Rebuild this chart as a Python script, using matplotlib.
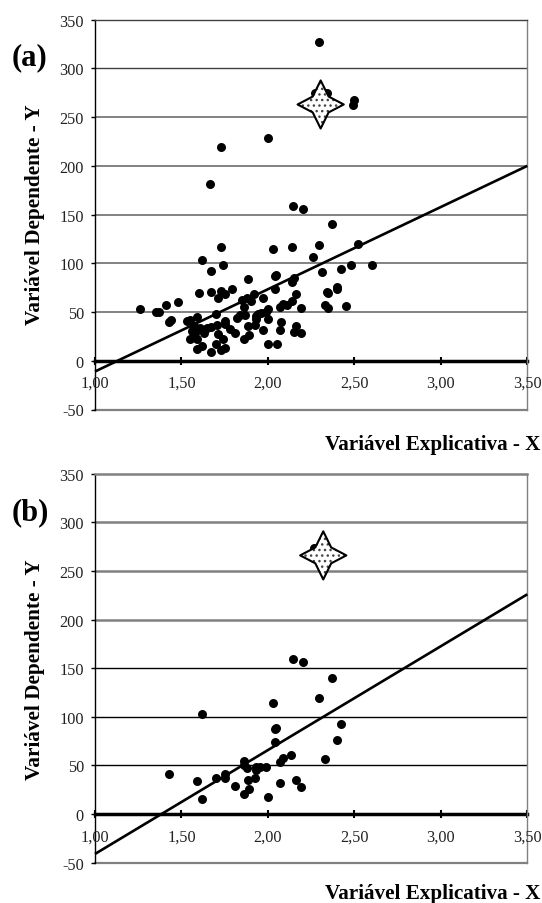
import matplotlib
matplotlib.use("Agg")
import matplotlib.pyplot as plt
import numpy as np
from matplotlib.path import Path

W, H = 542, 904

# panel (a) points
xa = [1.26, 1.354, 1.37, 1.41, 1.48, 1.43, 1.44, 1.53, 1.55, 1.59, 1.57, 1.56, 1.58, 1.55, 1.59,
      1.59, 1.62, 1.60, 1.62, 1.67, 1.73, 1.74, 1.67, 1.73, 1.71, 1.75, 1.79, 1.70, 1.75, 1.75,
      1.705, 1.67, 1.65, 1.61, 1.63, 1.71, 1.74, 1.70, 1.75, 1.73, 1.67, 1.78, 1.81, 1.86, 1.89,
      1.885, 1.82, 1.84, 1.85, 1.86, 1.87, 1.885, 1.88, 1.90, 1.92, 1.925, 1.93, 1.93, 1.94, 1.96,
      1.99, 2.00, 2.00, 1.97, 1.97, 2.00, 2.05, 2.03, 2.04, 2.045, 2.04, 2.07, 2.07, 2.075, 2.085,
      2.11, 2.14, 2.14, 2.15, 2.14, 2.16, 2.19, 2.16, 2.15, 2.19, 2.26, 2.295, 2.31, 2.37, 2.42,
      2.48, 2.60, 2.52, 2.40, 2.40, 2.34, 2.345, 2.33, 2.35, 2.45, 2.295, 2.50, 2.49, 2.00, 1.73,
      1.665, 2.145, 2.20, 2.27, 2.34]
ya = [53, 50, 50, 57, 60, 40, 42, 41, 42, 45, 36, 31, 28, 22, 22,
      12, 15, 70, 103, 92, 117, 98, 71, 72, 64, 69, 74, 48, 41, 38,
      37, 35, 34, 34, 28, 27, 22, 17, 13, 11, 9, 33, 29, 22, 26,
      36, 44, 47, 62, 55, 47, 84, 64, 61, 69, 37, 46, 43, 48, 49,
      50, 53, 43, 32, 64, 17, 17, 115, 87, 88, 74, 55, 32, 40, 58,
      57, 117, 81, 85, 61, 69, 54, 36, 30, 28, 106, 119, 91, 140, 94,
      98, 98, 120, 76, 74, 71, 70, 57, 54, 56, 327, 268, 262, 229, 219,
      181, 159, 156, 275, 275]

# panel (b) points
xb = [1.62, 2.03, 2.295, 2.37, 2.04, 2.045, 2.04, 2.42, 2.40, 2.33, 2.135, 2.085, 2.07, 1.43, 1.59,
      1.62, 1.70, 1.75, 1.75, 1.81, 1.86, 1.89, 1.885, 1.86, 1.86, 1.88, 1.925, 1.93, 1.93, 1.955,
      1.99, 2.00, 2.07, 2.16, 2.19, 2.145, 2.20, 2.265]
yb = [103, 114.5, 119, 140, 87, 88, 74, 93, 76.5, 57, 61, 58, 54, 41, 34.5,
      15, 37, 41, 37, 29, 21, 26, 35.5, 55, 50, 47, 37, 48, 45, 48.5,
      48.5, 17.5, 31.5, 35.5, 27.5, 159, 156, 274]

# regression line end values at x = 1 and x = 3.5
line_x = [1.0, 3.5]
line_a = [-11, 200]
line_b = [-41, 226]

# highlighted point
star_a = (2.305, 263)
star_b = (2.32, 266)

x_ticks = [1.0, 1.5, 2.0, 2.5, 3.0, 3.5]
x_labels = ["1,00", "1,50", "2,00", "2,50", "3,00", "3,50"]
y_ticks = [-50, 0, 50, 100, 150, 200, 250, 300, 350]

plt.rcParams["font.family"] = ["Liberation Serif", "DejaVu Serif"]
plt.rcParams["axes.unicode_minus"] = False
plt.rcParams["hatch.linewidth"] = 1.0

star_path = Path(
    [(0, 1), (0.33, 0.33), (0.96, 0), (0.33, -0.33), (0, -1), (-0.33, -0.33), (-0.96, 0), (-0.33, 0.33), (0, 1)],
    closed=True,
)


def draw_panel(fig, top, bottom, px, py, line_y, star, label, label_y, xlabel_y, ycenter, grid_cols):
    ax = fig.add_axes([95 / W, 1 - bottom / H, (527.3 - 95) / W, (bottom - top) / H])
    ax.set_xlim(1.0, 3.5)
    ax.set_ylim(-50, 350)

    for val, col in zip(y_ticks[2:], grid_cols):
        ax.axhline(val, color=col[0], lw=col[1], zorder=1)
    ax.axhline(-50, color="#808080", lw=1.6, clip_on=False, zorder=1)

    ax.scatter(px, py, s=42, color="black", linewidths=0, zorder=3)
    ax.plot(line_x, line_y, color="black", lw=1.9, zorder=4, solid_capstyle="butt", clip_on=False)

    # star: white base, dotted fill, then outline
    ax.scatter([star[0]], [star[1]], s=1200, marker=star_path, facecolor="white", edgecolor="#444444",
               hatch="...", linewidths=0, zorder=5)
    ax.scatter([star[0]], [star[1]], s=1200, marker=star_path, facecolor="none", edgecolor="black",
               linewidths=1.5, zorder=6)

    ax.spines["bottom"].set_position(("data", 0))
    ax.spines["bottom"].set_linewidth(2.5)
    ax.spines["bottom"].set_zorder(2)
    ax.spines["left"].set_linewidth(1.0)
    ax.spines["top"].set_color(grid_cols[-1][0])
    ax.spines["top"].set_linewidth(grid_cols[-1][1])
    ax.spines["right"].set_color("#808080")
    ax.spines["right"].set_linewidth(1.0)

    ax.set_xticks(x_ticks)
    ax.set_xticklabels([])
    ax.tick_params(axis="x", direction="inout", length=6, width=1.5, color="black")
    for tx, tl in zip(x_ticks, x_labels):
        ax.annotate(tl, (tx, 0), xytext=(0, -16), textcoords="offset points", ha="center", va="center",
                    fontsize=11.7, color="#222222", annotation_clip=False, zorder=7)

    ax.set_yticks(y_ticks)
    ax.tick_params(axis="y", direction="out", length=3, width=1.0, labelsize=11.7, pad=5, labelcolor="#222222")

    fig.text(12 / W, 1 - label_y / H, label, fontsize=22, fontweight="bold", ha="left", va="center")
    fig.text(35 / W, 1 - ycenter / H, "Variável Dependente - Y", fontsize=15.3, fontweight="bold",
             rotation=90, ha="center", va="center")
    fig.text(540.5 / W, 1 - xlabel_y / H, "Variável Explicativa - X", fontsize=15.2, fontweight="bold",
             ha="right", va="center")
    return ax


def main():
    fig = plt.figure(figsize=(W / 100, H / 100), dpi=100)
    dark = ("#404040", 1.0)
    soft = ("#808080", 1.8)
    black = ("#000000", 1.0)
    draw_panel(fig, 20.7, 410.5, xa, ya, line_a, star_a, "(a)", 58, 445, 215,
               [("#606060", 1.1)] * 5 + [dark])
    draw_panel(fig, 474.7, 863.7, xb, yb, line_b, star_b, "(b)", 513, 894, 670,
               [black, black, black, soft, soft, soft])
    fig.savefig("out.png", dpi=100)


if __name__ == "__main__":
    main()
